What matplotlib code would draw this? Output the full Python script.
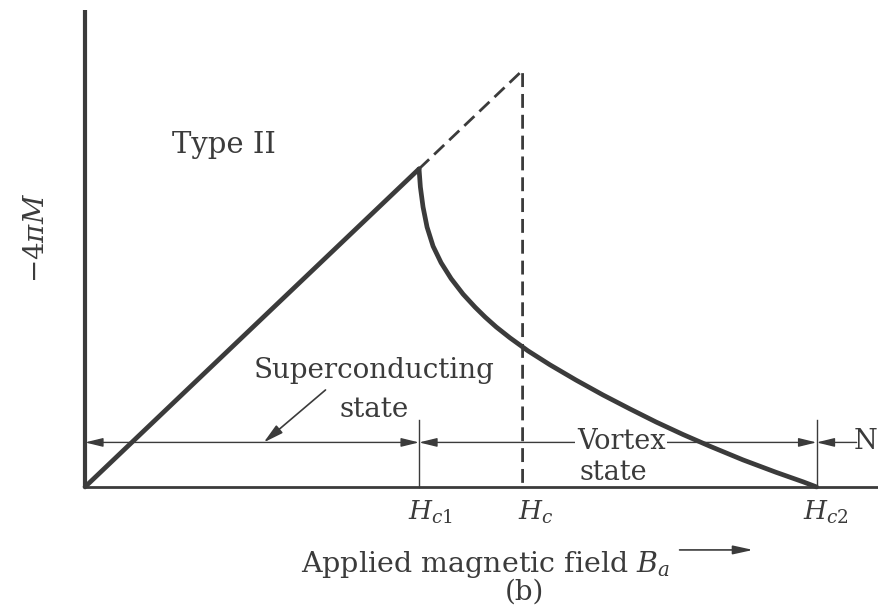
import matplotlib.pyplot as plt

# magnetization curve of a type II superconductor
# fields in units of Hc1, magnetization in units of -4piM at Hc1

campo_hc1 = 1.0
campo_hc = 1.31
campo_hc2 = 2.19

# Meissner region: -4piM grows linearly with Ba
campo_meissner = [0.0, campo_hc1]
magnet_meissner = [0.0, 1.0]

# dashed extension up to Hc (type I behaviour)
campo_tipo1 = [campo_hc1, campo_hc, campo_hc]
magnet_tipo1 = [1.0, campo_hc, 0.0]

# vortex state, from Hc1 down to zero at Hc2
campo_vortice = [1.000, 1.004, 1.012, 1.024, 1.042, 1.066, 1.096, 1.132,
                 1.168, 1.198, 1.231, 1.272, 1.326, 1.392, 1.470, 1.551,
                 1.632, 1.710, 1.790, 1.871, 1.970, 2.069, 2.150, 2.190]
magnet_vortice = [1.000, 0.943, 0.880, 0.817, 0.757, 0.705, 0.655, 0.606,
                  0.565, 0.534, 0.503, 0.469, 0.428, 0.384, 0.336, 0.289,
                  0.245, 0.204, 0.165, 0.128, 0.085, 0.046, 0.016, 0.000]

rotulos_campo = [r"$H_{c1}$", r"$H_c$", r"$H_{c2}$"]
campos_rotulo = [campo_hc1, campo_hc, campo_hc2]

tinta = "#3b3b3b"
plt.rcParams["font.family"] = ["DejaVu Serif"]
plt.rcParams["mathtext.fontset"] = "dejavuserif"

fig = plt.figure(figsize=(8.79, 6.11), dpi=100)
fig.patch.set_facecolor("white")
ax = fig.add_axes([0, 0, 1, 1])
ax.set_xlim(-0.2545, 2.377)
ax.set_ylim(-0.390, 1.531)
ax.axis("off")

# eixos desenhados a mao
ax.plot([0, 0], [0, 1.50], color=tinta, lw=3.0, solid_capstyle="butt")
ax.plot([0, 2.5], [0, 0], color=tinta, lw=2.0)

# curvas
ax.plot(campo_meissner, magnet_meissner, color=tinta, lw=3.4,
        solid_capstyle="round", zorder=5)
ax.plot(campo_tipo1, magnet_tipo1, color=tinta, lw=2.0,
        dashes=(5, 2.5), zorder=4)
ax.plot(campo_vortice, magnet_vortice, color=tinta, lw=3.4,
        solid_capstyle="round", solid_joinstyle="round", zorder=5)

# marcas verticais em Hc1 e Hc2
altura_marca = 0.21
for campo in (campo_hc1, campo_hc2):
    ax.plot([campo, campo], [0, altura_marca], color=tinta, lw=1.0)

# setas dos estados
nivel_seta = 0.14
seta = dict(arrowstyle="<|-|>,head_length=0.9,head_width=0.22",
            color=tinta, lw=1.0, shrinkA=0, shrinkB=0, mutation_scale=12)
ax.annotate("", xy=(campo_hc1, nivel_seta), xytext=(0, nivel_seta),
            arrowprops=seta)
ax.annotate("", xy=(campo_hc2, nivel_seta), xytext=(campo_hc1, nivel_seta),
            arrowprops=seta)
ax.annotate("", xy=(campo_hc2, nivel_seta), xytext=(2.31, nivel_seta),
            arrowprops=dict(arrowstyle="-|>,head_length=0.9,head_width=0.22",
                            color=tinta, lw=1.0, shrinkA=0, shrinkB=0,
                            mutation_scale=12))

# seta que aponta para o estado supercondutor
ax.annotate("", xy=(0.535, nivel_seta), xytext=(0.72, 0.305),
            arrowprops=dict(arrowstyle="-|>,head_length=1.0,head_width=0.25",
                            color=tinta, lw=1.2, shrinkA=0, shrinkB=0,
                            mutation_scale=12))

# textos
ax.text(0.416, 1.05, "Type II", color=tinta, fontsize=21, ha="center",
        va="baseline")
ax.text(0.865, 0.343, "Superconducting", color=tinta, fontsize=20,
        ha="center", va="baseline")
ax.text(0.865, 0.22, "state", color=tinta, fontsize=20, ha="center",
        va="baseline")
ax.text(1.605, 0.12, "Vortex", color=tinta, fontsize=19.5, ha="center",
        va="baseline", zorder=3,
        bbox=dict(facecolor="white", edgecolor="none", pad=1.0))
ax.text(1.581, 0.022, "state", color=tinta, fontsize=19.5, ha="center",
        va="baseline")
ax.text(2.374, 0.12, "N", color=tinta, fontsize=19.5, ha="right",
        va="baseline")

ax.text(-0.144, 0.783, r"$-4\pi M$", color=tinta, fontsize=20,
        rotation=90, ha="center", va="center")

for rotulo, campo, desloc in zip(rotulos_campo, campos_rotulo,
                                 (-8, -3, -10)):
    ax.annotate(rotulo, xy=(campo, 0), xytext=(desloc, -24),
                textcoords="offset points", color=tinta, fontsize=19,
                ha="left", va="baseline")

ax.text(1.20, -0.267, r"Applied magnetic field $B_a$", color=tinta,
        fontsize=20.5, ha="center", va="baseline")
ax.annotate("", xy=(2.0, -0.198), xytext=(1.78, -0.198),
            arrowprops=dict(arrowstyle="-|>,head_length=1.0,head_width=0.22",
                            color=tinta, lw=1.2, shrinkA=0, shrinkB=0,
                            mutation_scale=12))
ax.text(1.317, -0.355, "(b)", color=tinta, fontsize=20, ha="center",
        va="baseline")

fig.savefig("out.png", dpi=100, facecolor="white")
